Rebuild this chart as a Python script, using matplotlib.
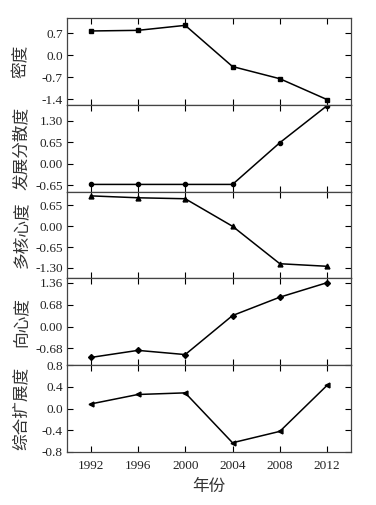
import matplotlib
matplotlib.use('Agg')
import matplotlib.pyplot as plt
import numpy as np

plt.rcParams['font.family'] = ['Liberation Serif', 'Noto Sans CJK SC']
plt.rcParams['axes.unicode_minus'] = False

years = [1992, 1996, 2000, 2004, 2008, 2012]

density = [0.78, 0.80, 0.96, -0.36, -0.75, -1.42]
dispersion = [-0.63, -0.63, -0.63, -0.63, 0.63, 1.75]
polycentric = [0.95, 0.89, 0.86, 0.00, -1.17, -1.25]
centripetal = [-0.96, -0.74, -0.87, 0.34, 0.91, 1.36]
composite = [0.085, 0.26, 0.29, -0.63, -0.42, 0.43]

labels = ['密度', '发展分散度', '多核心度', '向心度', '综合扩展度']
series = [density, dispersion, polycentric, centripetal, composite]
markers = ['s', 'o', '^', 'D', '<']
msizes = [3, 3, 3.5, 3, 3.5]
yticks = [[0.7, 0.0, -0.7, -1.4],
          [1.30, 0.65, 0.00, -0.65],
          [0.65, 0.00, -0.65, -1.30],
          [1.36, 0.68, 0.00, -0.68],
          [0.8, 0.4, 0.0, -0.4, -0.8]]
yfmt = ['%.1f', '%.2f', '%.2f', '%.2f', '%.1f']
ylims = [(-1.59, 1.19), (-0.85, 1.77), (-1.63, 1.08), (-1.20, 1.49), (-0.8, 0.8)]

fig, axes = plt.subplots(5, 1, figsize=(3.76, 5.05), dpi=100, sharex=True)
fig.subplots_adjust(left=0.178, right=0.933, top=0.964, bottom=0.105, hspace=0)

for i, ax in enumerate(axes):
    ax.plot(years, series[i], color='black', lw=1.1, marker=markers[i],
            ms=msizes[i], mfc='black', mec='black')
    ax.set_ylim(*ylims[i])
    ax.set_yticks(yticks[i])
    ax.set_yticklabels([yfmt[i] % v for v in yticks[i]])
    ax.set_ylabel(labels[i], family=['Noto Sans CJK SC'], fontsize=12, color='#333333')
    ax.yaxis.set_label_coords(-0.13, 0.5)
    ax.tick_params(direction='in', top=True, right=True, length=4, width=0.8,
                   labelsize=9.5, pad=3, labelcolor='#222222')
    for s in ax.spines.values():
        s.set_linewidth(0.9)
        s.set_color('#444444')

axes[-1].set_xlim(1990, 2014)
axes[-1].set_xticks(years)
axes[-1].set_xlabel('年份', family=['Noto Sans CJK SC'], fontsize=12, color='#333333')
axes[-1].tick_params(axis='x', pad=6)

fig.savefig('out.png', dpi=100)
